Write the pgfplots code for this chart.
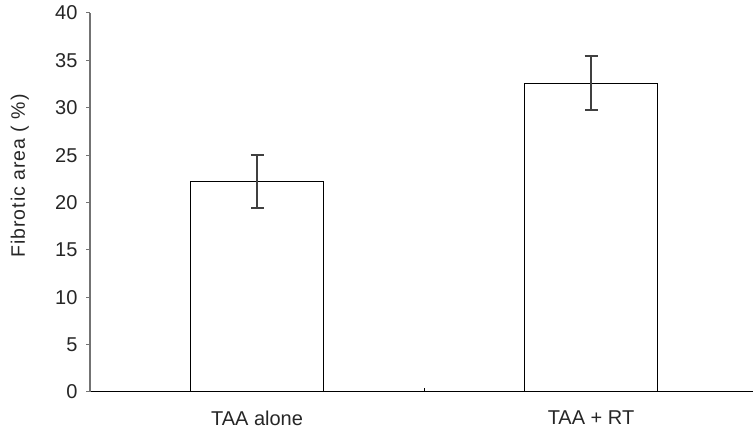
\documentclass[border=0pt]{standalone}
\usepackage{fontspec}
\setmainfont{Liberation Sans}
\usepackage{pgfplots}
\pgfplotsset{compat=1.18}
\begin{document}
\begin{tikzpicture}
\path[use as bounding box] (0,0) rectangle (753pt,438pt);
\begin{axis}[
  at={(90pt,46pt)}, anchor=south west,
  scale only axis, width=663pt, height=379pt,
  xmin=0, xmax=1.985, ymin=0, ymax=40,
  axis x line=bottom, axis y line=left,
  x axis line style={-, black, line width=1pt},
  y axis line style={-, black!55, line width=1.8pt},
  ytick={0,5,...,40},
  y tick style={black!55, line width=1pt},
  ytick align=outside, major tick length=4pt,
  xtick={1}, xticklabels={},
  xtick align=inside,
  x tick style={black, line width=0.8pt},
  extra x ticks={0.5,1.5}, extra x tick labels={TAA alone, TAA + RT},
  extra x tick style={major tick length=0pt, tick style={draw=none}},
  /pgf/number format/assume math mode=true,
  ticklabel style={font=\fontsize{20}{22}\selectfont, text=black!85},
  xticklabel style={yshift=-15pt},
  yticklabel style={xshift=-5pt},
  ylabel={\addfontfeature{LetterSpace=5}Fibrotic area ( \%)},
  ylabel style={font=\fontsize{19.5}{22}\selectfont, text=black!85, at={(axis description cs:-0.106,0.57)}, anchor=center},
  clip=false,
]
\addplot[ybar, bar width=0.4, fill=white, draw=black, line width=1pt,
  error bars/.cd, y dir=both, y explicit,
  error bar style={line width=1.4pt, black!75},
  error mark options={rotate=90, mark size=6.5pt, line width=1.4pt, black!75}]
  coordinates {(0.5,22.2) +- (0,2.8) (1.5,32.6) +- (0,2.85)};
\end{axis}
\end{tikzpicture}
\end{document}
